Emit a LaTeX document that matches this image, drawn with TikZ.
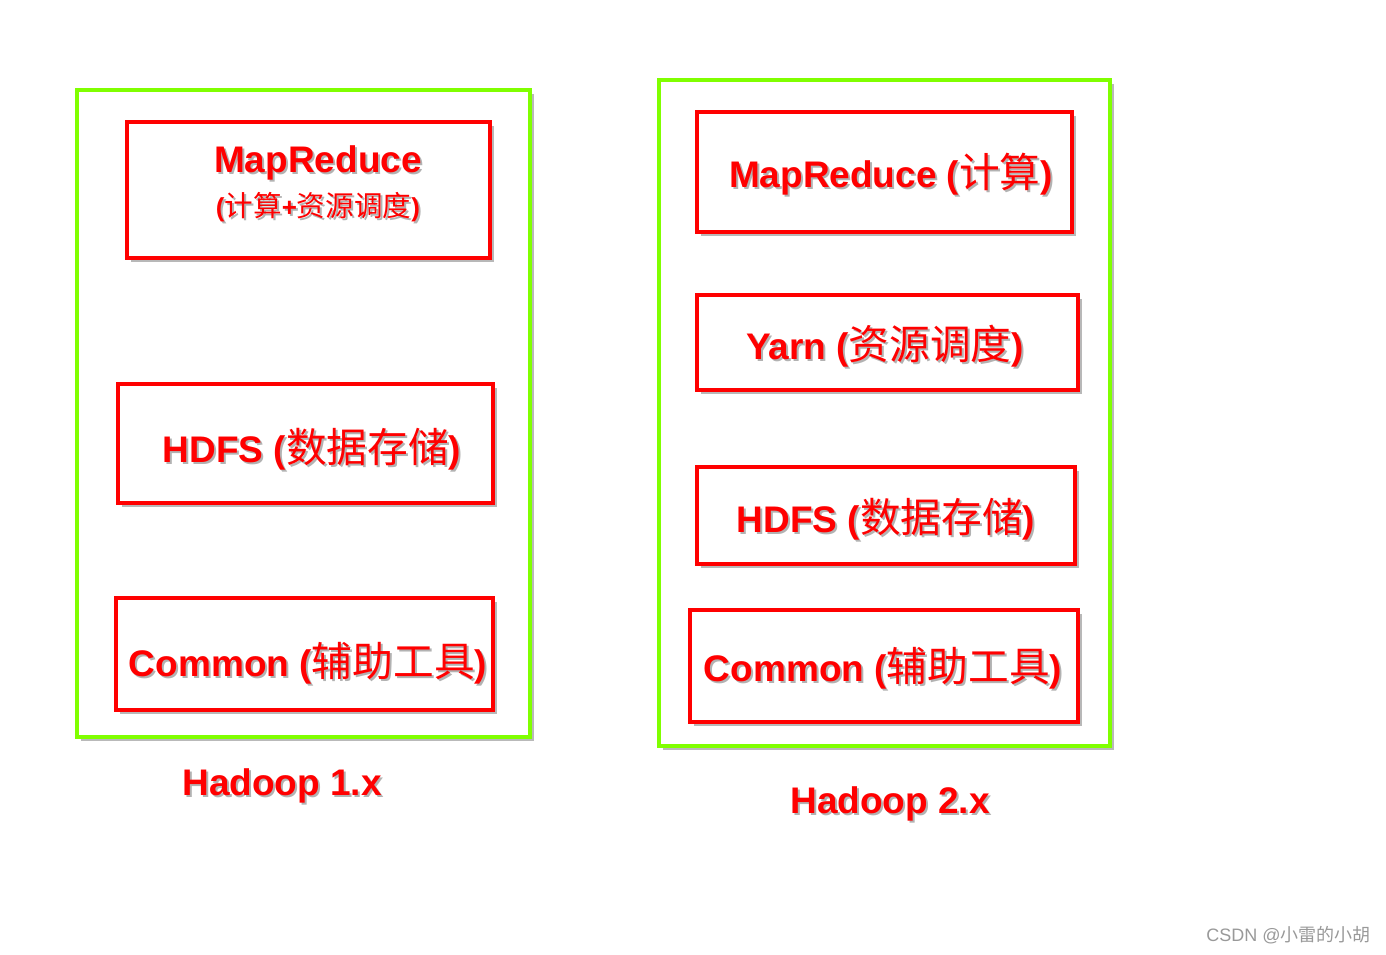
\documentclass[tikz,border=0pt]{standalone}
\usepackage{fontspec}
\setmainfont{Liberation Sans}
\newfontfamily\cjk[Scale=1.1]{Noto Sans CJK SC}
\newfontfamily\cjkmark{Noto Sans CJK SC}
\usepackage{tikz}
\usetikzlibrary{shadows, positioning}

\definecolor{hgreen}{RGB}{128,255,0}
\definecolor{hred}{RGB}{255,0,0}

% red letters with a soft grey shadow behind them
\newcommand{\shtext}[1]{\makebox[0pt][l]{\raisebox{-2pt}{\hspace{2pt}\color{black!30}#1}}#1}
\newcommand{\zh}[1]{{\cjk\mdseries #1}}

\begin{document}
\begin{tikzpicture}[
            x = 1pt, y = -1pt, % pixel-like units
            every node/.style = {inner sep = 0pt},
            bigtext/.style = {font = \fontsize{37}{50}\selectfont\bfseries, text = hred, align = center},
            semithick
        ]

        \tikzstyle{version}=[
            draw = hgreen,
            line width = 4pt,
            fill = white,
            drop shadow = {shadow xshift = 4pt, shadow yshift = -4pt, opacity = .5, fill = black!55}
        ]
        \tikzstyle{layer}=[
            draw = hred,
            line width = 3.5pt,
            fill = white,
            drop shadow = {shadow xshift = 4pt, shadow yshift = -4pt, opacity = .5, fill = black!55}
        ]

        \useasboundingbox (0,0) rectangle (1386,954);

        % Hadoop 1.x
        \node[version, minimum width = 453, minimum height = 647] (v1) at (303.5,413.5) {};
        \node[layer, minimum width = 363, minimum height = 136] (mr1) at (308.5,190) {};
        \node[layer, minimum width = 375, minimum height = 119] (hdfs1) at (305.5,443.5) {};
        \node[layer, minimum width = 377, minimum height = 112] (common1) at (304.5,654) {};

        \node[bigtext] (mr1-t) at ([shift={(9.5,-5)}]mr1.center)
            {\shtext{MapReduce}\\[-6pt]{\fontsize{26}{28}\selectfont\shtext{(\zh{计算}+\zh{资源调度})}}};
        \node[bigtext] (hdfs1-t) at ([shift={(6.5,7)}]hdfs1.center) {\shtext{HDFS (\zh{数据存储})}};
        \node[bigtext] (common1-t) at ([shift={(3.5,10)}]common1.center) {\shtext{Common (\zh{辅助工具})}};
        \node[bigtext] (lbl1) at (282,787) {\shtext{Hadoop 1.x}};

        % Hadoop 2.x
        \node[version, minimum width = 451, minimum height = 666] (v2) at (884.5,413) {};
        \node[layer, minimum width = 375, minimum height = 120] (mr2) at (884.5,172) {};
        \node[layer, minimum width = 381, minimum height = 95] (yarn2) at (887.5,342.5) {};
        \node[layer, minimum width = 378, minimum height = 97] (hdfs2) at (886,515.5) {};
        \node[layer, minimum width = 388, minimum height = 112] (common2) at (884,666) {};

        \node[bigtext] (mr2-t) at ([shift={(6.5,3)}]mr2.center) {\shtext{MapReduce (\zh{计算})}};
        \node[bigtext] (yarn2-t) at ([shift={(-2.5,5)}]yarn2.center) {\shtext{Yarn (\zh{资源调度})}};
        \node[bigtext] (hdfs2-t) at ([shift={(0,5)}]hdfs2.center) {\shtext{HDFS (\zh{数据存储})}};
        \node[bigtext] (common2-t) at ([shift={(-1,3)}]common2.center) {\shtext{Common (\zh{辅助工具})}};
        \node[bigtext] (lbl2) at (890,805) {\shtext{Hadoop 2.x}};

        \node[anchor = east, text = black!40, font = \fontsize{18}{20}\selectfont] (mark) at (1371,935)
            {CSDN @{\cjkmark 小雷的小胡}};

  \end{tikzpicture}
\end{document}
